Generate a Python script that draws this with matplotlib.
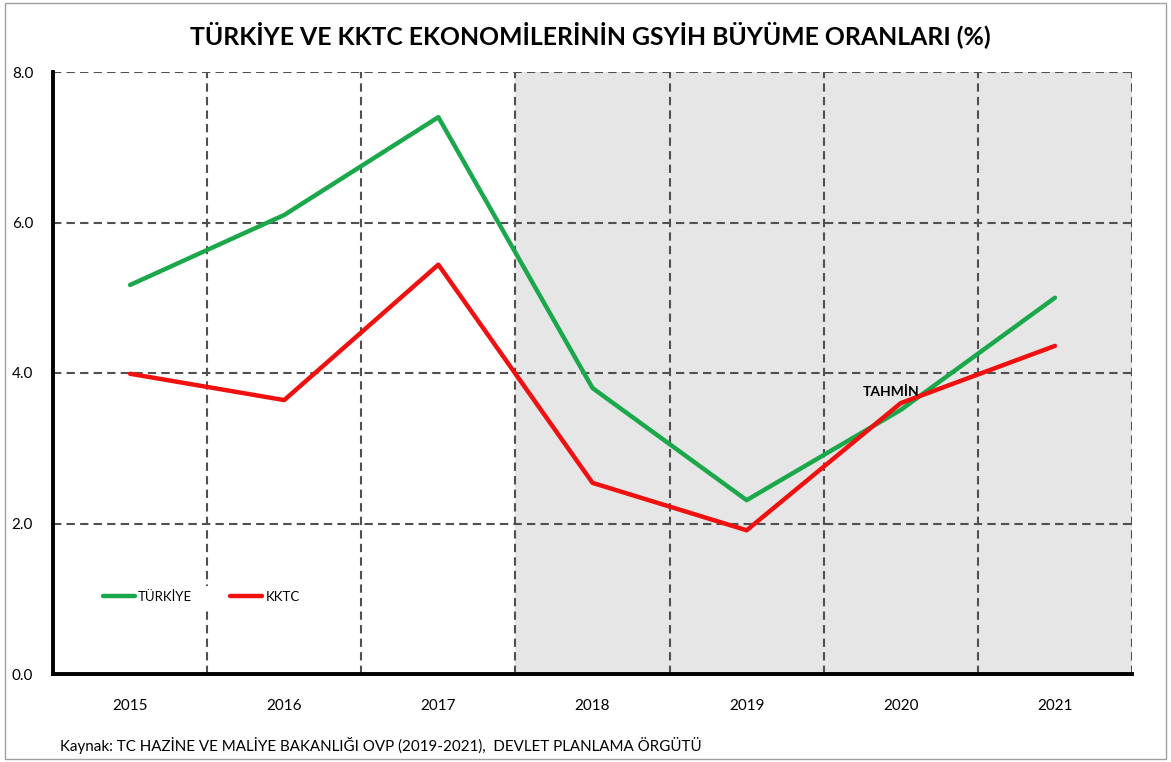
import matplotlib
matplotlib.use("Agg")
import matplotlib.pyplot as plt
from matplotlib.patches import Rectangle

years = ["2015", "2016", "2017", "2018", "2019", "2020", "2021"]
turkiye = [5.17, 6.10, 7.40, 3.80, 2.31, 3.51, 5.00]
kktc = [3.99, 3.64, 5.44, 2.54, 1.91, 3.60, 4.36]
yticks = [0.0, 2.0, 4.0, 6.0, 8.0]

title = "TÜRKİYE VE KKTC EKONOMİLERİNİN GSYİH BÜYÜME ORANLARI (%)"
source = "Kaynak: TC HAZİNE VE MALİYE BAKANLIĞI OVP (2019-2021),  DEVLET PLANLAMA ÖRGÜTÜ"

plt.rcParams['font.family'] = ['Lato', 'DejaVu Sans']

fig = plt.figure(figsize=(11.71, 7.62), dpi=100)
ax = fig.add_axes([53/1171, 1 - 674/762, 1079/1171, 602/762])

x = list(range(len(years)))
ax.set_xlim(-0.5, len(years) - 0.5)
ax.set_ylim(0, 8)

# shaded forecast region
ax.axvspan(2.5, len(years) - 0.5, color='#e6e6e6', zorder=0, lw=0)

# grid
ax.set_yticks(yticks)
ax.set_yticklabels([f"{v:.1f}" for v in yticks], fontsize=11)
ax.set_xticks(x)
ax.set_xticklabels(years, fontsize=11)
ax.set_xticks([i + 0.5 for i in x], minor=True)
ax.tick_params(axis='both', which='both', length=0)
ax.tick_params(axis='x', pad=18)
ax.grid(axis='y', which='major', color='#505050', linestyle=(0, (4, 2.5)), lw=1.5, zorder=1)
ax.grid(axis='x', which='minor', color='#505050', linestyle=(0, (4, 2.5)), lw=1.5, zorder=1)
for lbl in ax.get_yticklabels():
    lbl.set_ha('center')
ax.yaxis.set_tick_params(pad=22)

for s in ['top', 'right']:
    ax.spines[s].set_visible(False)
for s in ['left', 'bottom']:
    ax.spines[s].set_linewidth(2.8)
    ax.spines[s].set_color('black')
    ax.spines[s].set_zorder(5)

ax.plot(x, turkiye, color='#1aa84b', lw=3.2, label='TÜRKİYE', zorder=4, solid_capstyle='round')
ax.plot(x, kktc, color='#f01010', lw=3.2, label='KKTC', zorder=4, solid_capstyle='round')

ax.text(4.94, 3.75, "TAHMİN", fontsize=10, fontweight='bold', ha='center', va='center', zorder=6)

leg = ax.legend(loc='center left', bbox_to_anchor=(0.0414, 0.128), ncol=2, fontsize=9.5,
                frameon=True, fancybox=False, edgecolor='none', facecolor='white', framealpha=1,
                handlelength=2.4, handletextpad=0.25, columnspacing=2.9, borderaxespad=0)
leg.set_zorder(7)

fig.text(590/1171, 1 - 35/762, title, ha='center', va='center', fontsize=17.8, fontweight='bold')
fig.text(60/1171, 1 - 745/762, source, ha='left', va='center', fontsize=10.9)

fig.add_artist(Rectangle((0.004, 0.004), 0.992, 0.992, transform=fig.transFigure,
                         fill=False, edgecolor='#a0a0a0', lw=1))

fig.savefig("out.png", dpi=100)
